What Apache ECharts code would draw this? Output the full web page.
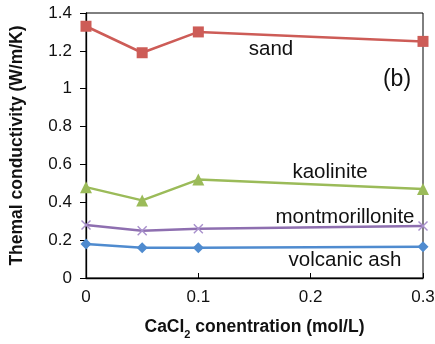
<!DOCTYPE html>
<html><head><meta charset="utf-8">
<script src="https://cdn.jsdelivr.net/npm/echarts@6/dist/echarts.min.js"></script>
<style>html,body{margin:0;padding:0;background:#fff}#c{width:435px;height:344px}</style>
</head><body><div id="c"></div>
<script>
var xValues = [0, 0.05, 0.1, 0.3];
var sand = [1.33, 1.19, 1.30, 1.25];
var kaolinite = [0.48, 0.41, 0.52, 0.47];
var montmorillonite = [0.28, 0.25, 0.26, 0.275];
var volcanicAsh = [0.18, 0.16, 0.16, 0.165];
var seriesNames = ['sand', 'kaolinite', 'montmorillonite', 'volcanic ash'];

function pairs(v){ return xValues.map(function(x,i){ return [x, v[i]]; }); }
var FONT = '"Liberation Sans", Arial, sans-serif';
var crossPath = 'path://M0,1 L1,0 L5,4 L9,0 L10,1 L6,5 L10,9 L9,10 L5,6 L1,10 L0,9 L4,5 Z';

var chart = echarts.init(document.getElementById('c'), null, {renderer:'canvas'});
function lbl(text, x, y, size){
  return {type:'text', x: x, y: y, style:{text:text, font: size+'px '+FONT, fill:'#111', align:'center', verticalAlign:'middle'}};
}
chart.setOption({
  animation: false,
  grid: {left: 86, right: 12, top: 13, bottom: 66, show: true, borderColor: '#000', borderWidth: 1,
         outerBoundsMode: 'none', containLabel: false},
  xAxis: {
    type: 'value', min: 0, max: 0.3, interval: 0.1,
    axisLine: {lineStyle: {color: '#000', width: 1.3}},
    axisTick: {inside: true, length: 5, lineStyle: {color: '#000'}},
    splitLine: {show: false},
    axisLabel: {color: '#111', fontSize: 17, fontFamily: FONT, margin: 11},
    name: '{a|CaCl}{s|2}{a| conentration (mol/L)}',
    nameLocation: 'middle', nameGap: 40,
    nameTextStyle: {rich: {
      a: {fontSize: 17.5, fontWeight: 'bold', fontFamily: FONT, color: '#111'},
      s: {fontSize: 11, fontWeight: 'bold', fontFamily: FONT, color: '#111', verticalAlign: 'bottom', padding: [0,0,-4,0]}
    }}
  },
  yAxis: {
    type: 'value', min: 0, max: 1.4, interval: 0.2,
    axisLine: {show: true, lineStyle: {color: '#000', width: 1.3}},
    axisTick: {show: true, inside: false, length: 6, lineStyle: {color: '#000'}},
    splitLine: {show: false},
    axisLabel: {color: '#111', fontSize: 17, fontFamily: FONT, margin: 14},
    name: 'Themal conductivity (W/m/K)',
    nameLocation: 'middle', nameGap: 60,
    nameTextStyle: {fontSize: 17.5, fontWeight: 'bold', fontFamily: FONT, color: '#111'}
  },
  series: [
    {name: seriesNames[0], type: 'line', data: pairs(sand), symbol: 'rect', symbolSize: 11,
     lineStyle: {color: '#CD5C57', width: 2.5}, itemStyle: {color: '#CD5C57'}},
    {name: seriesNames[1], type: 'line', data: pairs(kaolinite), symbol: 'triangle', symbolSize: 12,
     lineStyle: {color: '#9BBB59', width: 2.5}, itemStyle: {color: '#9BBB59'}},
    {name: seriesNames[2], type: 'line', data: pairs(montmorillonite), symbol: crossPath, symbolSize: 10,
     lineStyle: {color: '#8E6FB0', width: 2.5}, itemStyle: {color: '#A890CC'}},
    {name: seriesNames[3], type: 'line', data: pairs(volcanicAsh), symbol: 'diamond', symbolSize: 11,
     lineStyle: {color: '#4F8BCF', width: 2.5}, itemStyle: {color: '#4F8BCF'}}
  ],
  graphic: [
    lbl('sand', 271, 49, 20.5),
    lbl('(b)', 397, 80, 23),
    lbl('kaolinite', 330, 172, 20.5),
    lbl('montmorillonite', 345, 217, 20.5),
    lbl('volcanic ash', 345, 260, 20.5)
  ]
});
</script></body></html>
